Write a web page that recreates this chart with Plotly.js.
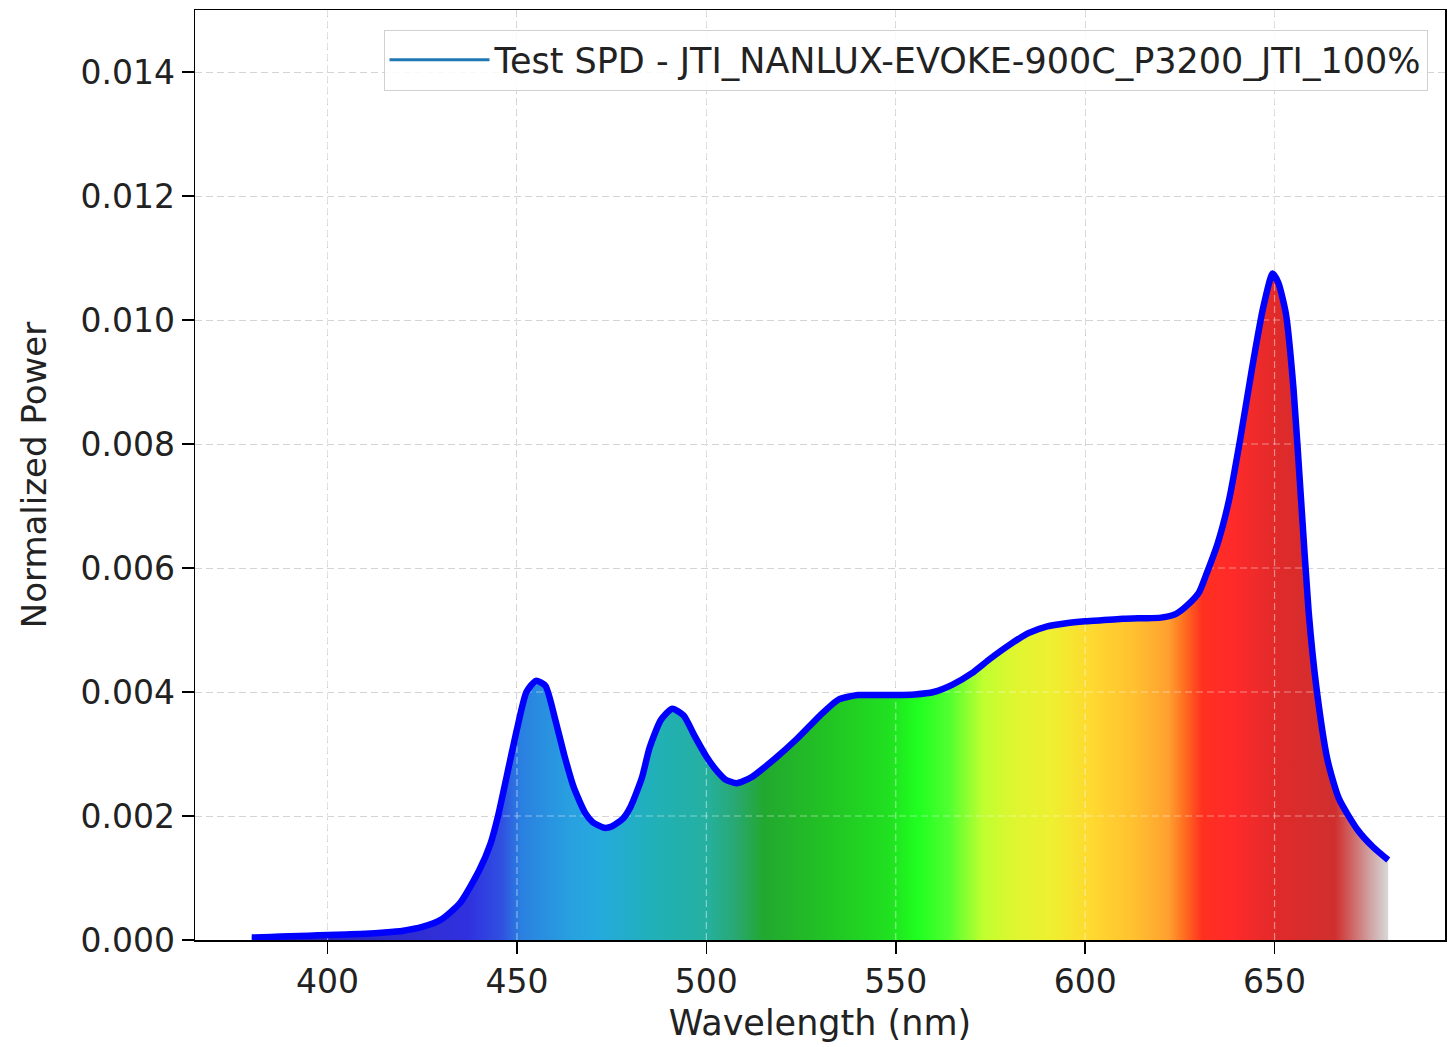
<!DOCTYPE html>
<html>
<head>
<meta charset="utf-8">
<script src="https://cdn.plot.ly/plotly-3.0.1.min.js"></script>
<style>html,body{margin:0;padding:0;background:#fff;}#chart{width:1453px;height:1047px;}</style>
</head>
<body>
<div id="chart"></div>
<script>
// Wavelength (nm)
const wavelengths = [380,385,390,395,400,405,410,415,420,425,430,435,440,443,445,447.5,450,452.5,455,457.5,460,462.5,465,468,470,473,475,478,480,483,485,488,491,494,497,500,503,505,508,512,518,524,530,535,540,545,550,555,560,565,570,575,580,585,590,595,600,605,610,615,620,624,627,630,632,635,638,641,644,647,649.5,651,653,655,657,659,661,664,667,672,676,680];
// Normalized power
const power = [0.00004,0.00005,0.00006,0.00007,0.00008,0.00009,0.0001,0.00012,0.00015,0.00021,0.00033,0.0006,0.00112,0.00155,0.002,0.0027,0.0034,0.0040,0.00418,0.0041,0.00358,0.00298,0.00246,0.00205,0.0019,0.00181,0.00183,0.00196,0.00215,0.00262,0.0031,0.00355,0.00373,0.00362,0.00328,0.00296,0.00271,0.00259,0.00253,0.00263,0.00292,0.00325,0.00362,0.00388,0.00395,0.00395,0.00395,0.00396,0.004,0.00412,0.0043,0.00454,0.00476,0.00495,0.00506,0.00511,0.00514,0.00516,0.00518,0.00519,0.0052,0.00526,0.0054,0.0056,0.0059,0.0064,0.0071,0.0081,0.0092,0.0102,0.01075,0.0106,0.0101,0.0089,0.0071,0.0053,0.0041,0.0029,0.00228,0.00177,0.0015,0.00129];
const seriesName = 'Test SPD - JTI_NANLUX-EVOKE-900C_P3200_JTI_100%';
const xTicks = [400,450,500,550,600,650];
const yTicks = [0,0.002,0.004,0.006,0.008,0.010,0.012,0.014];
const xRange = [365, 695];
const yRange = [0, 0.015];

// spectral fill colour stops (style)
const stopWl = [380,430,437,446,451,464,472,486,500,508,515,530,548,556,564,573,582,591,602,613,622,626,631,639,651,666,670,675,680];
const stopCol = ['#2a1fa8','#3030d8','#3030e0','#3050e0','#2a80e0','#28a0e0','#25aadd','#20b0b8','#25b0a0','#28a870','#22a830','#22c025','#20e020','#20ff20','#50ff30','#c0ff30','#e0f530','#eef030','#ffd830','#ffc030','#ffa030','#ff7020','#ff3020','#ff2a2a','#e02a2a','#d02f2f','#d06060','#d0a0a0','#d8d8d8'];
const wMin = wavelengths[0], wMax = wavelengths[wavelengths.length-1];
const colorscale = stopWl.map((w,i)=>[(w-wMin)/(wMax-wMin), stopCol[i]]);

// grid drawn over the fill (light dashes), built from the tick arrays
const gx = [], gy = [];
xTicks.forEach(t => { gx.push(t, t, null); gy.push(yRange[0], yRange[1], null); });
yTicks.slice(1).forEach(t => { gx.push(xRange[0], xRange[1], null); gy.push(t, t, null); });

const font = 'DejaVu Sans, sans-serif';
const lineShape = {shape: 'spline', smoothing: 0.6};
const traces = [
  {
    x: wavelengths, y: power, type: 'scatter', mode: 'lines',
    fill: 'tozeroy',
    fillgradient: {type: 'horizontal', start: wMin, stop: wMax, colorscale: colorscale},
    line: Object.assign({color: 'rgba(0,0,0,0)', width: 0}, lineShape),
    showlegend: false, hoverinfo: 'skip'
  },
  {
    x: gx, y: gy, type: 'scatter', mode: 'lines', connectgaps: false,
    line: {color: 'rgba(255,255,255,0.45)', width: 1.2, dash: '7px,4px'},
    showlegend: false, hoverinfo: 'skip'
  },
  {
    x: wavelengths, y: power, type: 'scatter', mode: 'lines',
    line: Object.assign({color: '#1f77b4', width: 3}, lineShape),
    name: seriesName, showlegend: true, hoverinfo: 'skip'
  },
  {
    x: wavelengths, y: power, type: 'scatter', mode: 'lines',
    line: Object.assign({color: '#0000ff', width: 6.5}, lineShape),
    showlegend: false, hoverinfo: 'skip'
  }
];

const axisCommon = {
  showline: true, mirror: true, linecolor: '#000', linewidth: 1.5,
  ticks: 'outside', ticklen: 12, tickwidth: 1.5, tickcolor: '#000',
  showgrid: true, gridcolor: '#c8c8c8', gridwidth: 1, griddash: '7px,4px',
  zeroline: false,
  tickfont: {family: font, size: 33, color: '#222'}
};

const layout = {
  width: 1453, height: 1047,
  margin: {l: 195, r: 8, t: 10, b: 107},
  paper_bgcolor: '#fff', plot_bgcolor: '#fff',
  font: {family: font, color: '#222'},
  hovermode: false,
  xaxis: Object.assign({}, axisCommon, {
    range: xRange, tickmode: 'array', tickvals: xTicks,
    ticktext: xTicks.map(String),
    title: {text: 'Wavelength (nm)', font: {family: font, size: 35, color: '#222'}, standoff: 10}
  }),
  yaxis: Object.assign({}, axisCommon, {
    range: yRange, tickmode: 'array', tickvals: yTicks,
    ticktext: yTicks.map(v => v.toFixed(3)),
    title: {text: 'Normalized Power', font: {family: font, size: 34, color: '#222'}, standoff: 23}
  }),
  legend: {
    x: 0.986, y: 0.979, xanchor: 'right', yanchor: 'top',
    bgcolor: 'rgba(255,255,255,0.85)', bordercolor: '#d0d0d0', borderwidth: 1,
    font: {family: font, size: 35, color: '#222'}, itemwidth: 100
  },
  showlegend: true
};

Plotly.newPlot('chart', traces, layout, {displayModeBar: false, staticPlot: true});
</script>
</body>
</html>
